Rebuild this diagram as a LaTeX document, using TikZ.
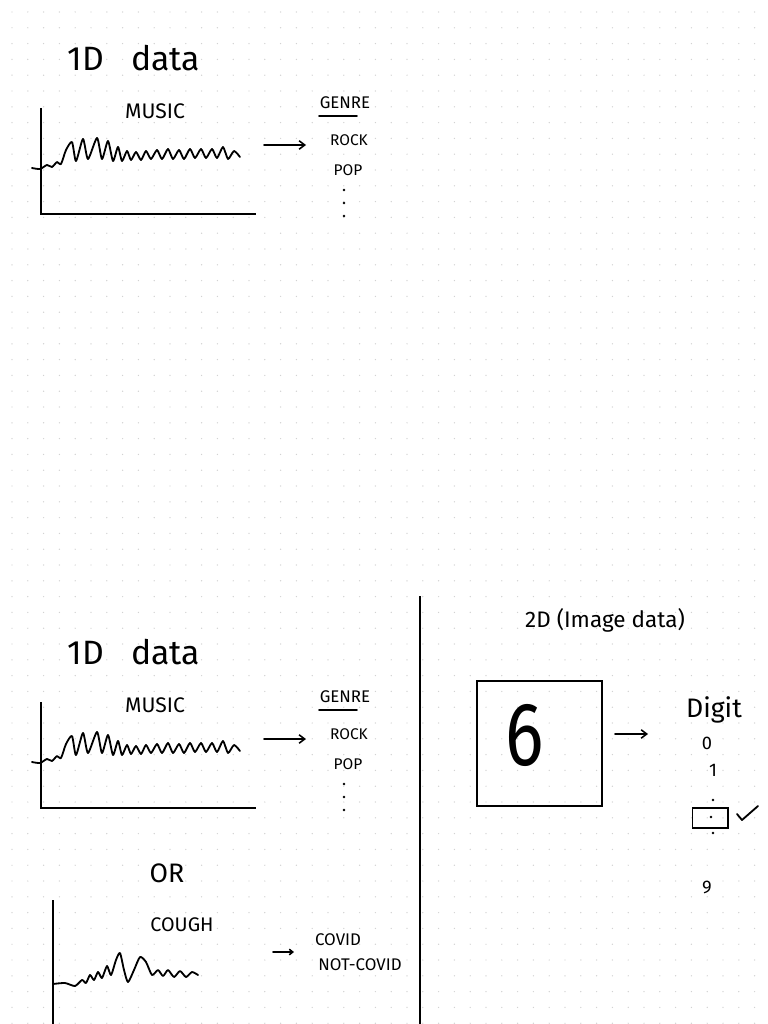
\documentclass[tikz,border=0pt]{standalone}
\usepackage{fontspec}
\setmainfont{Fira Sans}
\usetikzlibrary{arrows.meta}

\begin{document}
\begin{tikzpicture}[
  x=0.025cm, y=-0.025cm,
  ink/.style={line width=1.3pt,line cap=round,line join=round},
  axis/.style={line width=2pt},
  arr/.style={line width=1.1pt,line cap=round,-{Straight Barb[length=4pt,width=6pt]}},
  title/.style={font=\fontsize{24}{26}\selectfont},
  lbl/.style={font=\fontsize{15}{17}\selectfont},
  cls/.style={font=\fontsize{11}{13}\selectfont},
  dig/.style={font=\fontsize{13}{15}\selectfont},
  pt/.style={circle,fill,inner sep=0pt,minimum size=2.6pt}
]
  \useasboundingbox (0,0) rectangle (768,1024);
  % dotted paper
  \fill[white] (0,0) rectangle (768,1024);
  \foreach \i in {0,...,48}
    \foreach \j in {0,...,64}
      \fill[gray!35] (12+15.8*\i,12+15.8*\j) circle (0.5pt);

  % 1D data, music -> genre (twice)
  \foreach \dy/\k in {0/a,594/b}{
    \begin{scope}[shift={(0,\dy)}]
      \node[title] (title\k) at (134,58) {1D\hspace{0.8em}data};
      \node[lbl] (music\k) at (155,111) {MUSIC};
      \draw[axis] (41,108) -- (41,214) -- (256,214);
      \draw[ink] plot[smooth,tension=0.4] coordinates {
        (32,168) (40,169) (47,165) (52,167) (57,162) (61,164) (66,150) (72,142)
        (76,161) (83,139) (88,159) (97,138) (102,159) (108,141) (113,161) (118,147)
        (122,161) (127,151) (131,160) (136,152) (141,160) (146,151) (151,159) (157,150)
        (162,159) (168,149) (173,159) (179,150) (184,159) (190,149) (195,158) (201,149)
        (206,158) (212,149) (217,158) (223,147) (228,159) (234,151) (240,157)};
      \coordinate (from\k) at (264,145);
      \coordinate (to\k) at (306,145);
      \draw[arr] (from\k) -- (to\k);
      \node[font=\fontsize{12}{14}\selectfont] (genre\k) at (345,103) {GENRE};
      \draw[ink] (319,116) -- (357,116);
      \node[cls] (rock\k) at (349,140) {ROCK};
      \node[cls] (pop\k) at (348,170) {POP};
      \foreach \y in {190,203,216}
        \node[pt,minimum size=2pt] at (344,\y) {};
    \end{scope}
  }

  % cough -> covid
  \node[font=\fontsize{19}{21}\selectfont] (or) at (167,873) {OR};
  \draw[axis] (53,900) -- (53,1024);
  \draw[ink] plot[smooth,tension=0.4] coordinates {
    (53,984) (65,983) (75,986) (82,980) (86,983) (90,975) (94,980) (98,972)
    (102,978) (107,966) (111,975) (116,960) (120,953) (124,970) (128,982) (134,970)
    (140,957) (146,962) (152,975) (158,970) (163,976) (168,970) (174,977) (180,971)
    (186,977) (192,972) (198,975)};
  \node[font=\fontsize{14}{16}\selectfont] (cough) at (182,925) {COUGH};
  \coordinate (coughout) at (273,952);
  \coordinate (covidin) at (294,952);
  \draw[arr,-{Straight Barb[length=2.5pt,width=4pt]}] (coughout) -- (covidin);
  \node[font=\fontsize{12}{14}\selectfont] (covid) at (338,940) {COVID};
  \node[font=\fontsize{12}{14}\selectfont] (notcovid) at (360,965) {NOT-COVID};

  \draw[axis] (420,596) -- (420,1024);

  % 2D image data -> digit
  \node[font=\fontsize{16}{18}\selectfont] (twod) at (605,620) {2D (Image data)};
  \node[draw,line width=1.8pt,minimum size=3.125cm,inner sep=0pt] (img) at (539.5,743.5) {};
  \node[font=\fontsize{64}{66}\selectfont] (six) at (525,735) {\scalebox{0.8}[1]{6}};
  \coordinate (imgout) at (615,734);
  \coordinate (digitin) at (648,734);
  \draw[arr] (imgout) -- (digitin);
  \node[font=\fontsize{19}{21}\selectfont] (digit) at (714,710) {Digit};
  \node[dig] (zero) at (707,743) {0};
  \node[dig] (one) at (713,770) {1};
  \node[pt,minimum size=2pt] (dota) at (713,800) {};
  \node[draw,line width=1.4pt,minimum width=0.875cm,minimum height=0.5cm,inner sep=0pt] (sel) at (710,818) {};
  \node[pt,minimum size=2pt] (dotb) at (711,817) {};
  \node[pt,minimum size=2pt] (dotc) at (713,833) {};
  \draw[ink] (737,814) -- (742,820) -- (758,806);
  \node[dig] (nine) at (707,887) {9};
\end{tikzpicture}
\end{document}
